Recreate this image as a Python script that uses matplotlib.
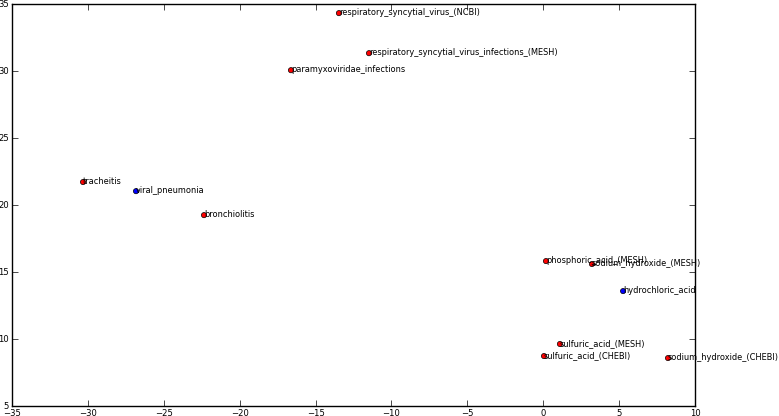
import matplotlib
matplotlib.use("Agg")
import matplotlib.pyplot as plt

plt.style.use("classic")

labels = ["respiratory_syncytial_virus_(NCBI)",
          "respiratory_syncytial_virus_infections_(MESH)",
          "paramyxoviridae_infections",
          "tracheitis",
          "viral_pneumonia",
          "bronchiolitis",
          "phosphoric_acid_(MESH)",
          "sodium_hydroxide_(MESH)",
          "hydrochloric_acid",
          "sulfuric_acid_(MESH)",
          "sulfuric_acid_(CHEBI)",
          "sodium_hydroxide_(CHEBI)"]
xs = [-13.46, -11.48, -16.62, -30.32, -26.83, -22.35,
      0.18, 3.21, 5.26, 1.10, 0.05, 8.22]
ys = [34.33, 31.34, 30.07, 21.72, 21.04, 19.25,
      15.82, 15.60, 13.58, 9.63, 8.73, 8.58]
colors = ["r", "r", "r", "r", "b", "r",
          "r", "r", "b", "r", "r", "r"]

fig = plt.figure(figsize=(7.79, 4.16), dpi=100)
ax = fig.add_axes([0.0154, 0.024, 0.8768, 0.966])

ax.scatter(xs, ys, c=colors, s=14, edgecolors="k", linewidths=0.5, zorder=3)
for lab, x, y in zip(labels, xs, ys):
    ax.annotate(lab, xy=(x, y), xytext=(0, -1.5), textcoords="offset points",
                fontsize=5.95)

ax.set_xlim(-35, 10)
ax.set_ylim(5, 35)
ax.tick_params(labelsize=6.1, pad=2)

fig.savefig("out.png", dpi=100)
